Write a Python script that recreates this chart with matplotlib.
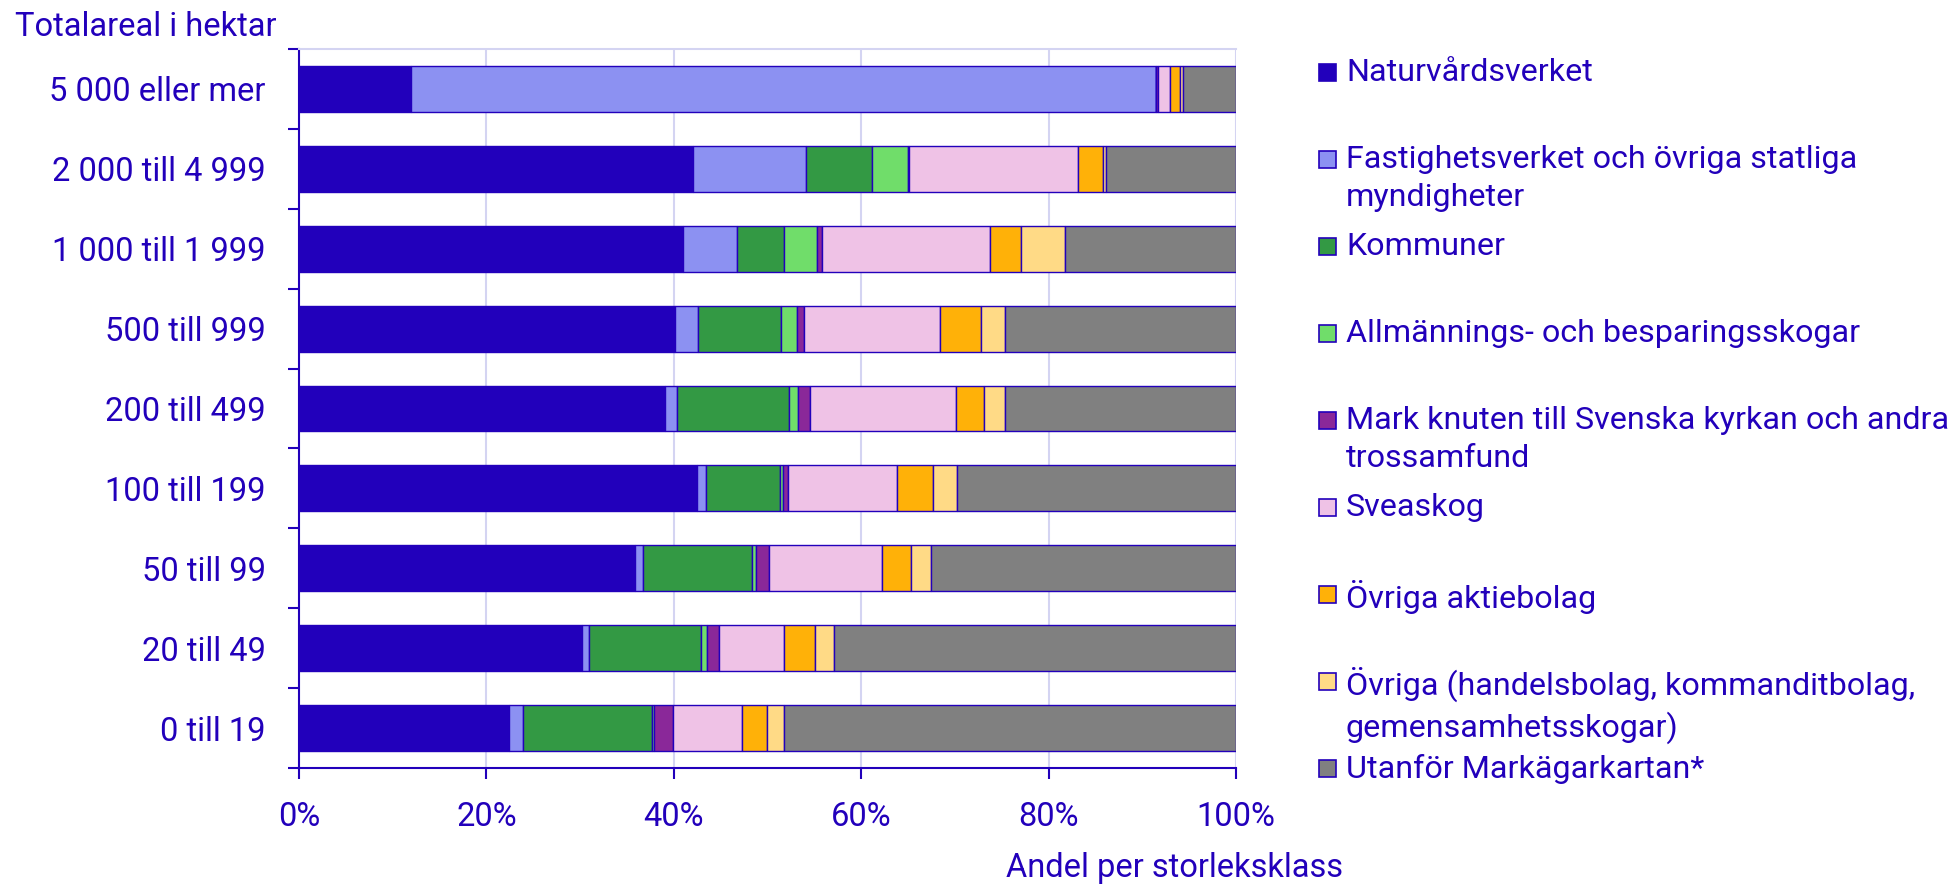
import matplotlib
matplotlib.use("Agg")
import matplotlib.pyplot as plt
from matplotlib.patches import Rectangle
import numpy as np

plt.rcParams['font.family'] = ['Roboto', 'DejaVu Sans']

# size classes, top to bottom as shown
categories = ["5 000 eller mer", "2 000 till 4 999", "1 000 till 1 999", "500 till 999",
              "200 till 499", "100 till 199", "50 till 99", "20 till 49", "0 till 19"]

series = ["Naturvårdsverket",
          "Fastighetsverket och övriga statliga\nmyndigheter",
          "Kommuner",
          "Allmännings- och besparingsskogar",
          "Mark knuten till Svenska kyrkan och andra\ntrossamfund",
          "Sveaskog",
          "Övriga aktiebolag",
          "Övriga (handelsbolag, kommanditbolag,\ngemensamhetsskogar)",
          "Utanför Markägarkartan*"]

colors = ["#2200BB", "#8C91F2", "#339944", "#70DD6A", "#8A2899",
          "#EFC2E6", "#FFB108", "#FFDA86", "#808080"]

# percent shares per size class (same order as categories)
naturvardsverket = [12.0, 42.0, 41.0, 40.1, 39.1, 42.5, 35.9, 30.2, 22.4]
fastighetsverket = [79.5, 12.1, 5.7, 2.5, 1.2, 0.9, 0.8, 0.7, 1.5]
kommuner         = [0.0, 7.1, 5.1, 8.8, 12.0, 7.9, 11.6, 12.0, 13.8]
allmannings      = [0.0, 3.8, 3.5, 1.8, 1.0, 0.4, 0.5, 0.6, 0.2]
kyrkan           = [0.2, 0.1, 0.5, 0.7, 1.2, 0.5, 1.4, 1.3, 2.0]
sveaskog         = [1.3, 18.0, 17.9, 14.5, 15.6, 11.6, 12.0, 7.0, 7.4]
ovriga_ab        = [1.0, 2.7, 3.4, 4.4, 3.0, 3.9, 3.1, 3.3, 2.7]
ovriga           = [0.3, 0.3, 4.7, 2.5, 2.3, 2.5, 2.1, 2.0, 1.8]
utanfor          = [5.7, 13.9, 18.2, 24.7, 24.6, 29.8, 32.6, 42.9, 48.2]

values = [naturvardsverket, fastighetsverket, kommuner, allmannings, kyrkan,
          sveaskog, ovriga_ab, ovriga, utanfor]

txt = "#2200BB"
grid = "#D4D4F2"
fs = 23.5
fs_leg = 23.2

fig = plt.figure(figsize=(19.56, 8.85), dpi=100)
ax = fig.add_axes([299 / 1956, 1 - 768 / 885, (1236 - 299) / 1956, (768 - 49) / 885])

y = np.arange(len(categories))
left = np.zeros(len(categories))
for vals, col in zip(values, colors):
    vals = np.array(vals)
    ax.barh(y, vals, left=left, height=0.575, color=col, edgecolor=txt, linewidth=1.0, zorder=3)
    left += vals

ax.set_xlim(0, 100)
ax.set_ylim(len(categories) - 0.5, -0.5)
ax.set_xticks(np.arange(0, 101, 20))
ax.set_xticklabels([f"{v}%" for v in range(0, 101, 20)])
ax.set_yticks(y)
ax.set_yticklabels(categories)
ax.set_yticks(np.arange(-0.5, len(categories), 1), minor=True)
ax.tick_params(axis='y', which='major', length=0, pad=24, labelsize=fs, labelcolor=txt)
ax.tick_params(axis='y', which='minor', length=8, width=1.5, color=txt)
ax.tick_params(axis='x', length=8, width=1.5, color=txt, pad=16, labelsize=fs, labelcolor=txt)

ax.grid(axis='x', color=grid, linewidth=1.5, zorder=0)
for s in ['left', 'bottom']:
    ax.spines[s].set_color(txt)
    ax.spines[s].set_linewidth(1.5)
ax.spines['top'].set_color(grid)
ax.spines['top'].set_linewidth(1.5)
ax.spines['right'].set_visible(False)

fig.text(15 / 1956, 1 - 27 / 885, "Totalareal i hektar", color=txt, fontsize=fs,
         ha='left', va='center')
fig.text(1174 / 1956, 1 - 868 / 885, "Andel per storleksklass", color=txt, fontsize=fs,
         ha='center', va='center')

# legend drawn by hand so two-line entries keep the even slot spacing
sq = 17
for i, (lab, col) in enumerate(zip(series, colors)):
    yc = 72 + i * 87.0
    fig.patches.append(Rectangle((1319 / 1956, 1 - (yc + sq / 2) / 885), sq / 1956, sq / 885,
                                 transform=fig.transFigure, facecolor=col, edgecolor=txt,
                                 linewidth=1.2))
    fig.text(1346 / 1956, 1 - (yc - 14) / 885, lab, color=txt, fontsize=fs_leg,
             ha='left', va='top', linespacing=1.38)

fig.savefig("out.png", dpi=100)
